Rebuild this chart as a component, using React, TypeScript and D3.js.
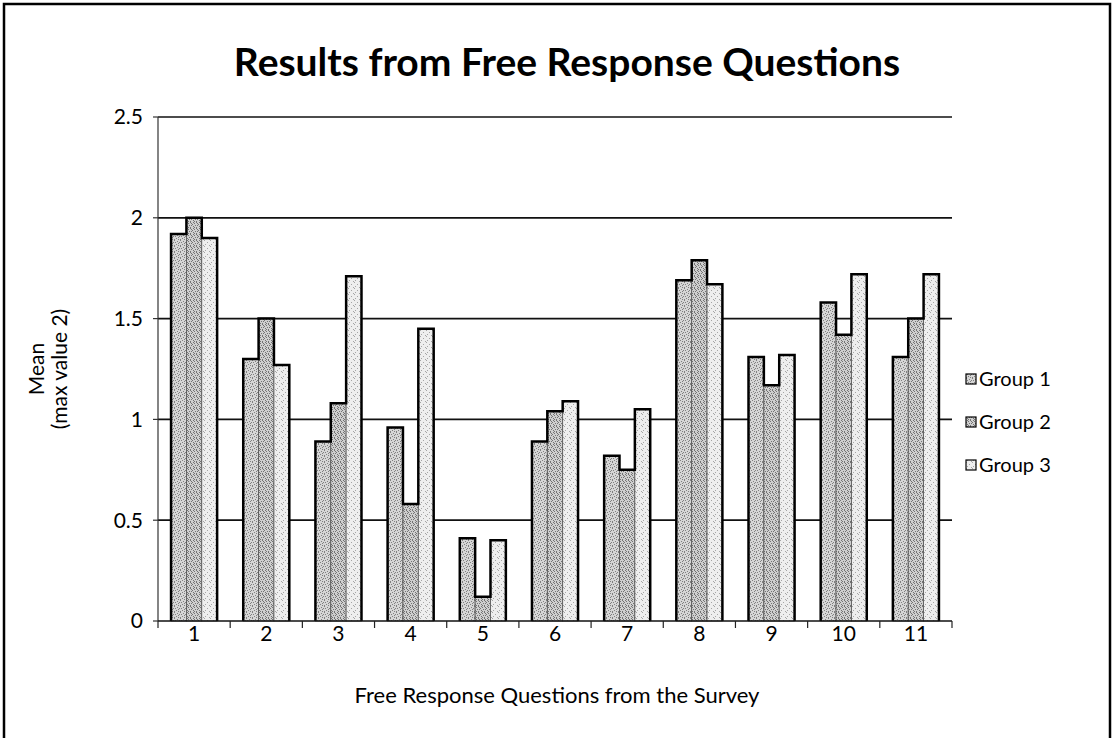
import React from "react";
import * as d3 from "d3";

// Survey results: mean score (max 2) per free response question, by group
const questions = ["1", "2", "3", "4", "5", "6", "7", "8", "9", "10", "11"];
const groups = ["Group 1", "Group 2", "Group 3"];
const group1 = [1.92, 1.3, 0.89, 0.96, 0.41, 0.89, 0.82, 1.69, 1.31, 1.58, 1.31];
const group2 = [2.0, 1.5, 1.08, 0.58, 0.12, 1.04, 0.75, 1.79, 1.17, 1.42, 1.5];
const group3 = [1.9, 1.27, 1.71, 1.45, 0.4, 1.09, 1.05, 1.67, 1.32, 1.72, 1.72];
const yTicks = [0, 0.5, 1, 1.5, 2, 2.5];

const seriesValues = [group1, group2, group3];

const W = 1113;
const H = 738;
const plot = { left: 158, right: 952, top: 117, bottom: 621 };
const FONT = "Lato, 'Open Sans', sans-serif";

// stipple tiles for the bar fills: [background, dot colour, dot cells]
const stipples: [string, string, [number, number][]][] = [
  ["#d6d6d6", "#808080", [[0, 0], [3, 1], [1, 2], [5, 2], [2, 4], [4, 3], [0, 5], [4, 5]]],
  ["#cfcfcf", "#737373", [[1, 0], [4, 0], [2, 1], [0, 2], [5, 3], [3, 3], [1, 4], [4, 5], [2, 5], [5, 1]]],
  ["#eeeeee", "#a5a5a5", [[0, 0], [3, 2], [1, 4], [5, 5]]],
];

export default function App() {
  const x0 = d3
    .scaleBand<string>()
    .domain(questions)
    .range([plot.left, plot.right])
    .paddingInner(0)
    .paddingOuter(0);
  const x1 = d3
    .scaleBand<string>()
    .domain(groups)
    .range([0, x0.bandwidth()])
    .paddingInner(0)
    .paddingOuter(0.85);
  const y = d3.scaleLinear().domain([0, 2.5]).range([plot.bottom, plot.top]);

  const patternIds = ["pat-g1", "pat-g2", "pat-g3"];

  // outline of each cluster of three bars
  const silhouette = (qi: number) => {
    const p = d3.path();
    const base = x0(questions[qi])!;
    const bw = x1.bandwidth();
    const xs = groups.map((g) => base + x1(g)!);
    p.moveTo(xs[0], y(0));
    groups.forEach((g, gi) => {
      const v = seriesValues[gi][qi];
      p.lineTo(xs[gi], y(v));
      p.lineTo(xs[gi] + bw, y(v));
    });
    p.lineTo(xs[2] + bw, y(0));
    return p.toString();
  };

  const boundaries = [...questions.map((q) => x0(q)!), plot.right];

  return (
    <svg width={W} height={H} style={{ display: "block", position: "absolute", left: 0, top: 0 }}>
      <defs>
        {stipples.map(([bg, dot, cells], i) => (
          <pattern key={i} id={patternIds[i]} width="6" height="6" patternUnits="userSpaceOnUse">
            <rect width="6" height="6" fill={bg} />
            {cells.map(([cx, cy], j) => (
              <rect key={j} x={cx} y={cy} width="1" height="1" fill={dot} />
            ))}
          </pattern>
        ))}
      </defs>

      <rect x={0} y={0} width={W} height={H} fill="#fff" />
      {/* frame */}
      <rect x={4} y={4} width={1106} height={760} fill="none" stroke="#000" strokeWidth={2.5} />

      {/* title */}
      <text
        x={567}
        y={76}
        textAnchor="middle"
        fontFamily={FONT}
        fontWeight={700}
        fontSize={39}
        fill="#000"
      >
        Results from Free Response Questions
      </text>

      {/* gridlines */}
      {yTicks
        .filter((t) => t > 0)
        .map((t) => (
          <line
            key={t}
            x1={plot.left}
            x2={plot.right}
            y1={y(t)}
            y2={y(t)}
            stroke="#111"
            strokeWidth={1.7}
          />
        ))}

      {/* bars */}
      {questions.map((q, qi) => (
        <g key={q}>
          {groups.map((g, gi) => {
            const v = seriesValues[gi][qi];
            return (
              <rect
                key={g}
                x={x0(q)! + x1(g)!}
                y={y(v)}
                width={x1.bandwidth()}
                height={y(0) - y(v)}
                fill={`url(#${patternIds[gi]})`}
                stroke="#555"
                strokeWidth={0.8}
              />
            );
          })}
          <path d={silhouette(qi)} fill="none" stroke="#000" strokeWidth={2.5} />
        </g>
      ))}

      {/* y axis */}
      <line x1={plot.left} x2={plot.left} y1={plot.top} y2={plot.bottom} stroke="#333" strokeWidth={1.2} />
      {yTicks.map((t) => (
        <g key={t}>
          <line x1={plot.left - 5} x2={plot.left} y1={y(t)} y2={y(t)} stroke="#333" strokeWidth={1.2} />
          <text
            x={143}
            y={y(t)}
            dy="0.35em"
            textAnchor="end"
            fontFamily={FONT}
            fontSize={21}
            fill="#000"
          >
            {String(t)}
          </text>
        </g>
      ))}

      {/* x axis */}
      <line x1={plot.left} x2={plot.right} y1={plot.bottom} y2={plot.bottom} stroke="#111" strokeWidth={1.6} />
      {boundaries.map((bx, i) => (
        <line key={i} x1={bx} x2={bx} y1={plot.bottom} y2={plot.bottom + 7} stroke="#222" strokeWidth={1.2} />
      ))}
      {questions.map((q) => (
        <text
          key={q}
          x={x0(q)! + x0.bandwidth() / 2}
          y={641}
          textAnchor="middle"
          fontFamily={FONT}
          fontSize={21}
          fill="#000"
        >
          {q}
        </text>
      ))}

      {/* axis titles */}
      <text x={557} y={703} textAnchor="middle" fontFamily={FONT} fontSize={22} fill="#000">
        Free Response Questions from the Survey
      </text>
      <g transform={`translate(0, ${(plot.top + plot.bottom) / 2}) rotate(-90)`}>
        <text x={0} y={44} textAnchor="middle" fontFamily={FONT} fontSize={21} fill="#000">
          Mean
        </text>
        <text x={0} y={67} textAnchor="middle" fontFamily={FONT} fontSize={21} fill="#000">
          (max value 2)
        </text>
      </g>

      {/* legend */}
      {groups.map((g, gi) => {
        const ly = 379 + gi * 43;
        return (
          <g key={g}>
            <rect
              x={966}
              y={ly - 5}
              width={10}
              height={10}
              fill={`url(#${patternIds[gi]})`}
              stroke="#000"
              strokeWidth={1.2}
            />
            <text x={979} y={ly} dy="0.35em" fontFamily={FONT} fontSize={20} fill="#000">
              {g}
            </text>
          </g>
        );
      })}
    </svg>
  );
}
